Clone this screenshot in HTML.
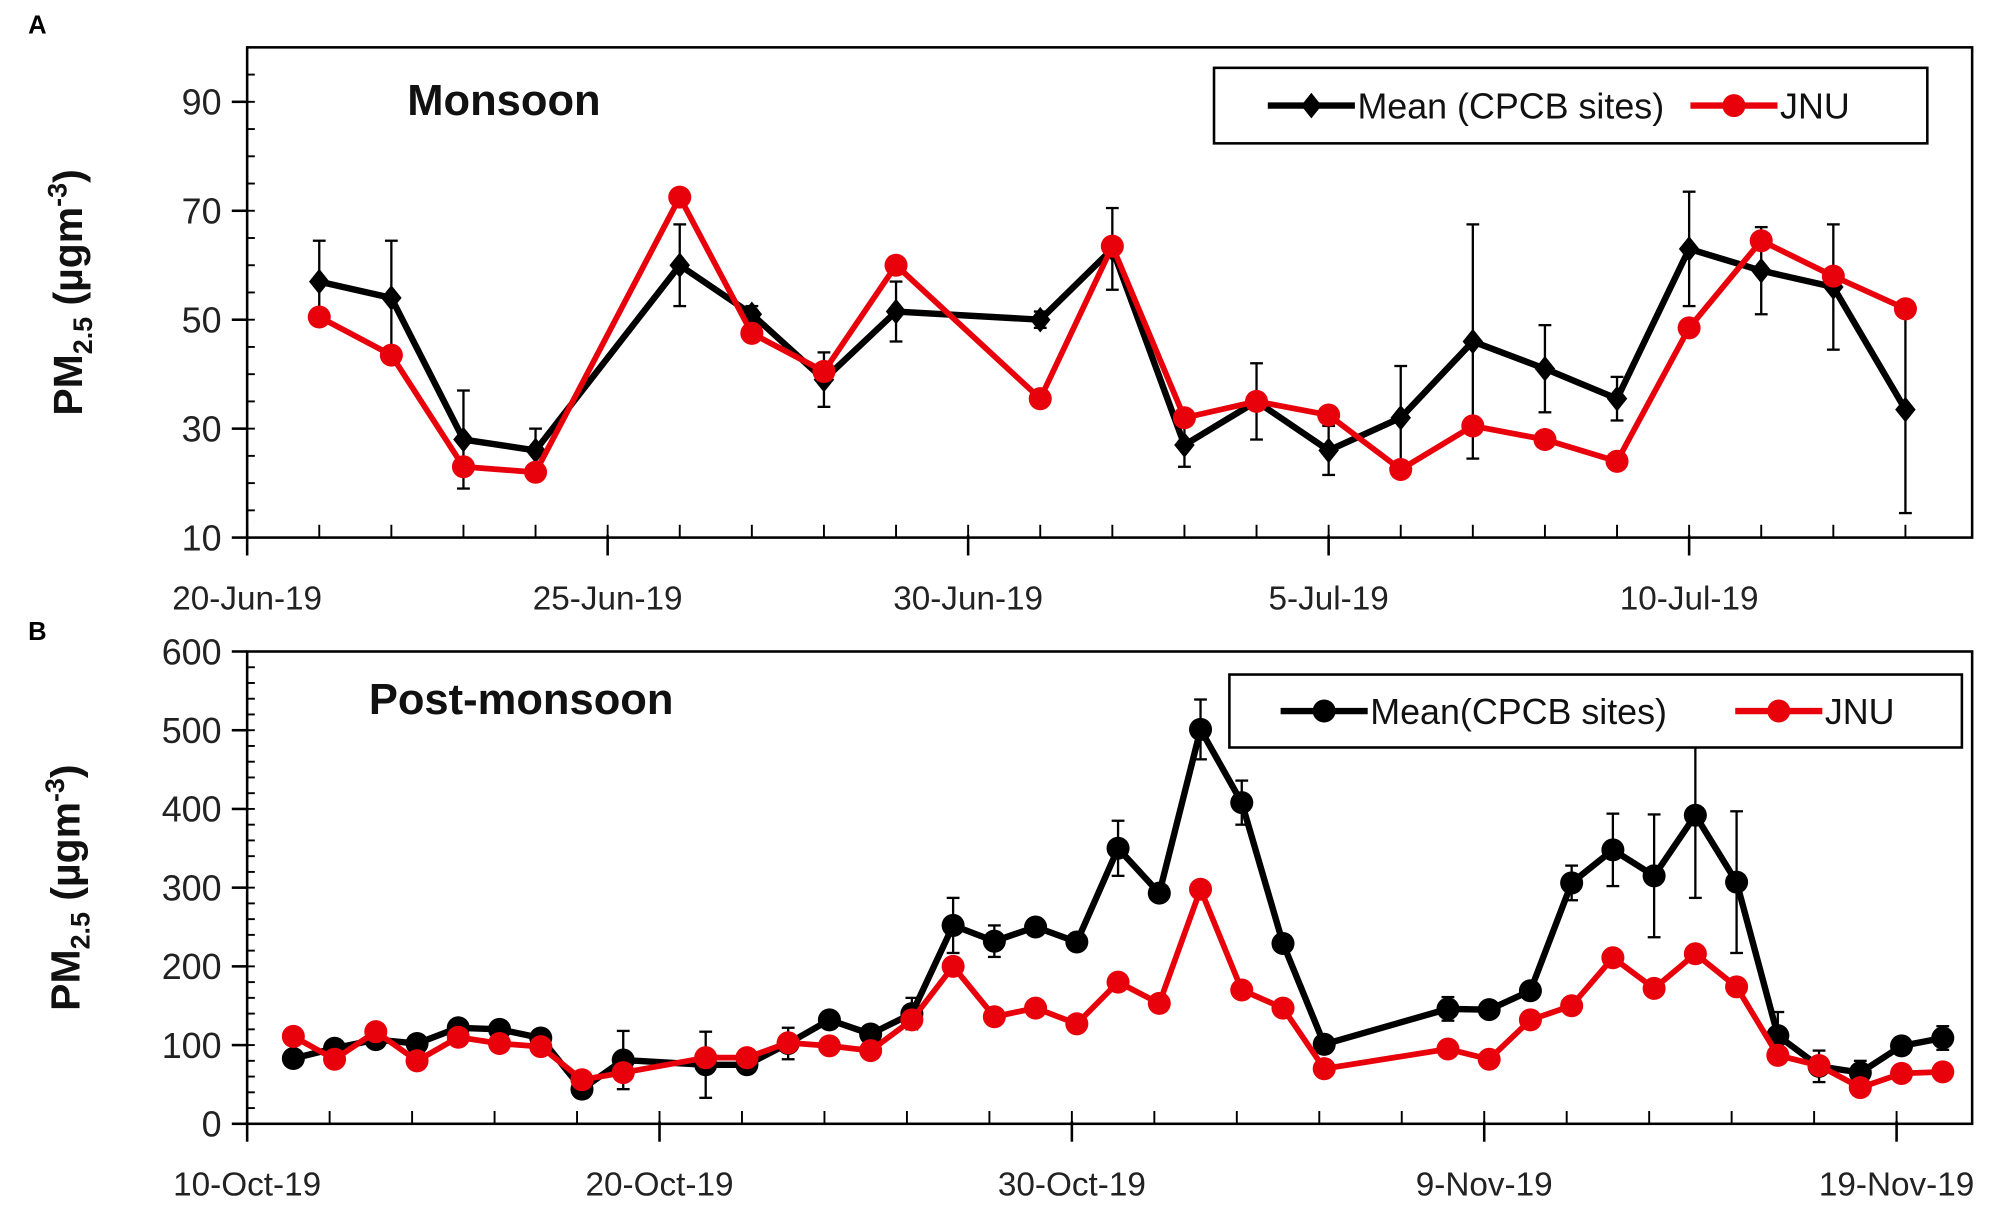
<!DOCTYPE html>
<html><head><meta charset="utf-8"><style>
html,body{margin:0;padding:0;background:#fff}
svg{display:block}
text{font-family:"Liberation Sans",sans-serif}
</style></head><body>
<svg id="fig" width="2008" height="1207" viewBox="0 0 1568 943" preserveAspectRatio="none" xmlns="http://www.w3.org/2000/svg"></svg>
<script>
// Panel A data (day offsets from 20-Jun-19)
const daysA = [1,2,3,4,6,7,8,9,11,12,13,14,15,16,17,18,19,20,21,22,23];
const meanA = [57,54,28,26,60,51,39,51.5,50,63,27,35,26,32,46,41,35.5,63,59,56,33.5];
const errA  = [7.5,10.5,9,4,7.5,1.5,5,5.5,1.5,7.5,4,7,4.5,9.5,21.5,8,4,10.5,8,11.5,19];
const jnuA  = [50.5,43.5,23,22,72.5,47.5,40.5,60,35.5,63.5,32,35,32.5,22.5,30.5,28,24,48.5,64.5,58,52];
const yTicksA = [10,30,50,70,90];
const xLabelsA = ["20-Jun-19","25-Jun-19","30-Jun-19","5-Jul-19","10-Jul-19"];
// Panel B data (day offsets from 10-Oct-19)
const daysB = [1,2,3,4,5,6,7,8,9,11,12,13,14,15,16,17,18,19,20,21,22,23,24,25,26,29,30,31,32,33,34,35,36,37,38,39,40,41];
const meanB = [83,96,107,102,122,120,109,44,81,75,75,102,132,114,140,252,232,250,231,350,293,501,408,229,101,146,145,169,306,348,315,392,307,112,73,65,99,109];
const errB  = [3,8,4,3,4,4,4,10,37,42,5,20,5,5,20,35,20,8,5,35,5,38,28,5,5,15,5,8,22,46,78,105,90,30,20,15,10,15];
const jnuB  = [111,82,117,80,110,102,98,56,65,84,84,103,99,93,132,200,136,147,127,180,153,298,170,147,70,95,82,132,150,211,172,216,174,87,74,46,64,66];
const yTicksB = [0,100,200,300,400,500,600];
const xLabelsB = ["10-Oct-19","20-Oct-19","30-Oct-19","9-Nov-19","19-Nov-19"];

const NS="http://www.w3.org/2000/svg";
const svg=document.getElementById('fig');
function mk(tag,attrs,parent){const e=document.createElementNS(NS,tag);for(const k in attrs)e.setAttribute(k,attrs[k]);(parent||svg).appendChild(e);return e;}

function panel(cfg){
  const g=mk('g',{});
  
  
  const {L,R,T,B,ymin,ymax,dmax}=cfg;
  const sx=d=>L+(d)*(R-L)/dmax;
  const sy=v=>B-(v-ymin)*(B-T)/(ymax-ymin);
  const frame=mk('rect',{x:L,y:T,width:R-L,height:B-T,fill:'none',stroke:'#000','stroke-width':2},g);
  
  
  for(let v=ymin;v<=ymax+1e-6;v+=cfg.yMinor){const y=sy(v);mk('line',{x1:L,x2:L+6,y1:y,y2:y,stroke:'#000','stroke-width':1.5},g);}
  cfg.yTicks.forEach(v=>{const y=sy(v);mk('line',{x1:L-12,x2:L,y1:y,y2:y,stroke:'#000','stroke-width':2},g);
    const t=mk('text',{x:L-20,y:y+10,'text-anchor':'end','font-size':28,fill:'#222'},g);t.textContent=v;
    
    });
  for(let d=0;d<=dmax;d+=cfg.xMinor){const x=sx(d);mk('line',{x1:x,x2:x,y1:B,y2:B-10,stroke:'#000','stroke-width':1.5},g);}
  cfg.xLabels.forEach((s,i)=>{const x=sx(i*cfg.xMajor);mk('line',{x1:x,x2:x,y1:B-2,y2:B+14,stroke:'#000','stroke-width':2},g);
    const t=mk('text',{x:x,y:B+56,'text-anchor':'middle','font-size':26,fill:'#222'},g);t.textContent=s;
    
    });
  cfg.days.forEach((d,i)=>{const x=sx(d+cfg.off),m=cfg.mean[i],e=cfg.err[i];
    const y1=sy(m-e),y2=sy(m+e);
    const eb=mk('g',{stroke:'#000','stroke-width':1.8},g);
    
    
    mk('line',{x1:x,x2:x,y1:y1,y2:y2},eb);mk('line',{x1:x-5,x2:x+5,y1:y1,y2:y1},eb);mk('line',{x1:x-5,x2:x+5,y1:y2,y2:y2},eb);});
  const pm=cfg.days.map((d,i)=>sx(d+cfg.off)+','+sy(cfg.mean[i])).join(' ');
  const lm=mk('polyline',{points:pm,fill:'none',stroke:'#000','stroke-width':5,'stroke-linejoin':'round'},g);
  
  
  cfg.days.forEach((d,i)=>{const x=sx(d+cfg.off),y=sy(cfg.mean[i]);let p;
    if(cfg.diamond)p=mk('polygon',{points:`${x},${y-10} ${x+8},${y} ${x},${y+10} ${x-8},${y}`,fill:'#000'},g);
    else p=mk('circle',{cx:x,cy:y,r:9,fill:'#000'},g);
    
    });
  const pj=cfg.days.map((d,i)=>sx(d+cfg.off)+','+sy(cfg.jnu[i])).join(' ');
  const lj=mk('polyline',{points:pj,fill:'none',stroke:'#e8000b','stroke-width':4.5,'stroke-linejoin':'round'},g);
  
  
  cfg.days.forEach((d,i)=>{const c=mk('circle',{cx:sx(d+cfg.off),cy:sy(cfg.jnu[i]),r:9,fill:'#e8000b'},g);
    
    });
  const yt=mk('text',{transform:`translate(${cfg.yTitleX},${(T+B)/2}) rotate(-90)`,'text-anchor':'middle','font-size':32,'font-weight':'bold',fill:'#111'},g);
  yt.innerHTML='PM<tspan font-size="21" dy="8">2.5</tspan><tspan dy="-8"> (µgm</tspan><tspan font-size="21" dy="-12">-3</tspan><tspan dy="12">)</tspan>';
  
  
  const st=mk('text',{x:cfg.titleX,y:cfg.titleY,'font-size':34,'font-weight':'bold',fill:'#111'},g);st.textContent=cfg.title;
  
  
  const pl=mk('text',{x:22,y:cfg.letterY,'font-size':20,'font-weight':'bold',fill:'#000'},g);pl.textContent=cfg.letter;
  
  
  const lg=mk('g',{},g);
  
  
  const [lx,ly,lw,lh]=cfg.legend;
  mk('rect',{x:lx,y:ly,width:lw,height:lh,fill:'#fff',stroke:'#000','stroke-width':2},lg);
  const cy=ly+lh/2;
  const e1=mk('g',{},lg);
  
  
  mk('line',{x1:cfg.legX1,x2:cfg.legX1+68,y1:cy,y2:cy,stroke:'#000','stroke-width':5},e1);
  const mx=cfg.legX1+34;
  if(cfg.diamond)mk('polygon',{points:`${mx},${cy-10} ${mx+8},${cy} ${mx},${cy+10} ${mx-8},${cy}`,fill:'#000'},e1);
  else mk('circle',{cx:mx,cy:cy,r:9,fill:'#000'},e1);
  const t1=mk('text',{x:cfg.legX1+70,y:cy+10,'font-size':28,fill:'#111'},e1);t1.textContent=cfg.meanLabel;
  const e2=mk('g',{},lg);
  
  
  mk('line',{x1:cfg.legX2,x2:cfg.legX2+68,y1:cy,y2:cy,stroke:'#e8000b','stroke-width':5},e2);
  mk('circle',{cx:cfg.legX2+34,cy:cy,r:9,fill:'#e8000b'},e2);
  const t2=mk('text',{x:cfg.legX2+70,y:cy+10,'font-size':28,fill:'#111'},e2);t2.textContent='JNU';
}

panel({name:'panel-a-monsoon',L:193,R:1540,T:37,B:420,ymin:10,ymax:100,dmax:1347/56.3,yMinor:5,xMinor:1,xMajor:5,off:0,
  yTicks:yTicksA,xLabels:xLabelsA,days:daysA,mean:meanA,err:errA,jnu:jnuA,diamond:true,
  yTitleX:64,title:'Monsoon',titleX:318,titleY:90,letter:'A',letterY:26,
  legend:[948,53,557,59],legX1:990,legX2:1320,meanLabel:'Mean (CPCB sites)'});
panel({name:'panel-b-post-monsoon',L:193,R:1540,T:509,B:878,ymin:0,ymax:600,dmax:1347/32.2,yMinor:20,xMinor:2,xMajor:10,off:0.12,
  yTicks:yTicksB,xLabels:xLabelsB,days:daysB,mean:meanB,err:errB,jnu:jnuB,diamond:false,
  yTitleX:62,title:'Post-monsoon',titleX:288,titleY:558,letter:'B',letterY:500,
  legend:[960,527,572,57],legX1:1000,legX2:1355,meanLabel:'Mean(CPCB sites)'});
</script>
</body></html>
